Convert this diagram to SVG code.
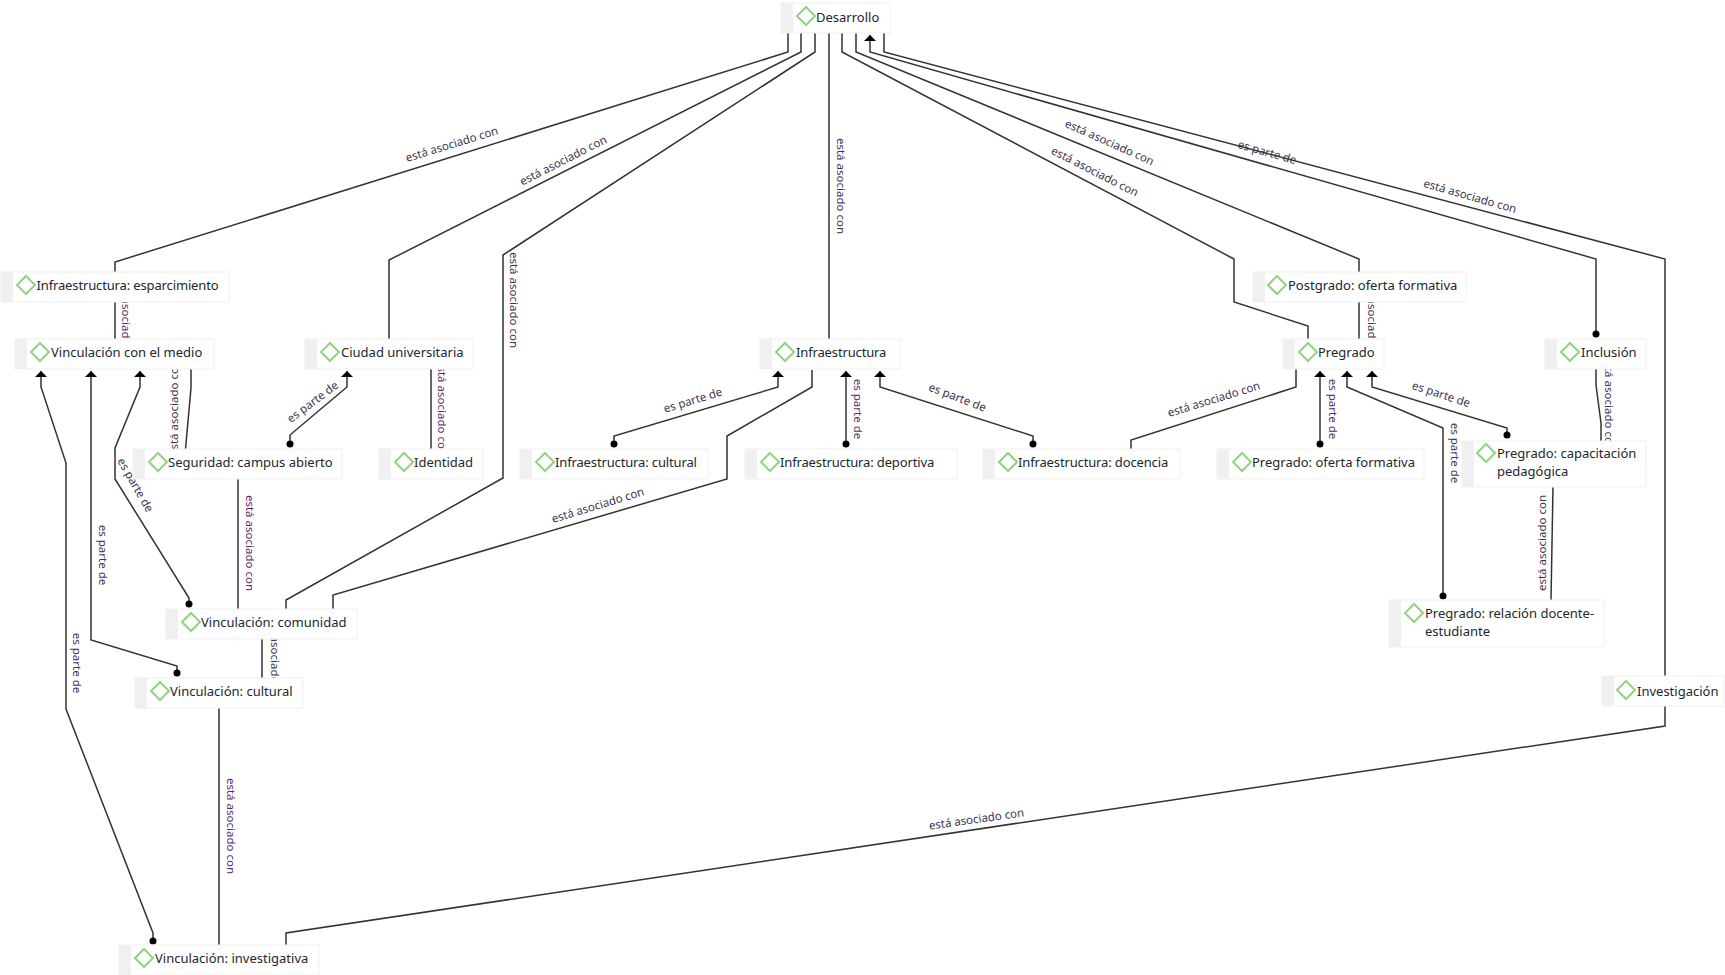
<svg xmlns="http://www.w3.org/2000/svg" width="1725" height="975" viewBox="0 0 1725 975">
<style>
.e{fill:none;stroke:#333;stroke-width:1.5}
.a{marker-end:url(#arrow)}
.d{marker-start:url(#dot)}
.l{font:11.5px "Noto Sans",sans-serif;fill:#3c3450;text-anchor:middle}
.p{fill:#5a2a6a}
.box{fill:#fff;stroke:#f0f0f0;stroke-width:1}
.strip{fill:#f0f0f0}
.dia{fill:#fff;stroke:#93d183;stroke-width:2}
.t{font:13px "Noto Sans",sans-serif;fill:#22262e}
.n{letter-spacing:-.14px}
</style>
<defs>
<marker id="arrow" markerUnits="userSpaceOnUse" markerWidth="7" markerHeight="12" refX="6" refY="6" orient="auto" viewBox="0 0 7 12"><path d="M0,0L6,6L0,12z" fill="#000"/></marker>
<marker id="dot" markerUnits="userSpaceOnUse" markerWidth="8" markerHeight="8" refX="4" refY="4" viewBox="0 0 8 8"><circle cx="4" cy="4" r="3.5" fill="#000"/></marker>
<path id="dm" d="M0,-9L9,0L0,9L-9,0z"/>
</defs>
<rect width="1725" height="975" fill="#fff"/>
<g id="connectors">
<path class="e" d="M788,33V52L115,262V339"/>
<path class="e" d="M801,33V52L389,260V339"/>
<path class="e" d="M815,33V52L503,255V478L286,600V609"/>
<path class="e" d="M829,33V340"/>
<path class="e" d="M842,33V52L1234,259V302L1308,326V339"/>
<path class="e" d="M856,33V52L1359,259V339"/>
<path class="e a d" d="M1596,334V259L870,52V35"/>
<path class="e" d="M884,33V52L1665,259V726L286,933V946"/>
<path class="e" d="M191,369V388L185.500,449"/>
<path class="e a d" d="M290,444V435L347,387V371"/>
<path class="e" d="M431,369V449"/>
<path class="e" d="M238,479V609"/>
<path class="e" d="M262,639V678"/>
<path class="e" d="M219,708V946"/>
<path class="e a d" d="M153,941V933L66,709V463L41,387V371"/>
<path class="e a d" d="M177,673V666L91,640V371"/>
<path class="e a d" d="M189,604V598L115,479V448L140,387V371"/>
<path class="e a d" d="M614,444V436L778,387V371"/>
<path class="e" d="M812,370V387L727,436V479L333,595V609"/>
<path class="e a d" d="M846,444V371"/>
<path class="e a d" d="M1033,444V436L880,387V371"/>
<path class="e" d="M1296,369V387L1131,440V449"/>
<path class="e a d" d="M1320,444V371"/>
<path class="e a d" d="M1443,596V428L1347,387V371"/>
<path class="e a d" d="M1507,435V428L1372,387V371"/>
<path class="e" d="M1596,369V385L1601,423V441"/>
<path class="e" d="M1553,487L1551,600"/>
<text class="l" transform="translate(453,148) rotate(-17)">está asociado con</text>
<text class="l" transform="translate(565,164) rotate(-27)">está asociado con</text>
<text class="l" transform="translate(510,300) rotate(90)">está asociado con</text>
<text class="l" transform="translate(837,186) rotate(90)">está asociado con</text>
<text class="l" transform="translate(1108,146) rotate(24)">está asociado con</text>
<text class="l" transform="translate(1093,175) rotate(27)">está asociado con</text>
<text class="l" transform="translate(1266,156) rotate(16)">es parte de</text>
<text class="l" transform="translate(1469,200) rotate(16)">está asociado con</text>
<text class="l" transform="translate(977,823) rotate(-8)">está asociado con</text>
<text class="l p" transform="translate(122,320) rotate(90)">está asociado con</text>
<text class="l" transform="translate(1368,320) rotate(90)">está asociado con</text>
<text class="l" transform="translate(178,408) rotate(-90)">está asociado con</text>
<text class="l" transform="translate(315,405) rotate(-37)">es parte de</text>
<text class="l p" transform="translate(438,408) rotate(90)">está asociado con</text>
<text class="l p" transform="translate(246,543) rotate(90)">está asociado con</text>
<text class="l" transform="translate(271,658) rotate(90)">está asociado con</text>
<text class="l p" transform="translate(227,826) rotate(90)">está asociado con</text>
<text class="l" transform="translate(73,663) rotate(90)">es parte de</text>
<text class="l" transform="translate(99,555) rotate(90)">es parte de</text>
<text class="l" transform="translate(132,487) rotate(60)">es parte de</text>
<text class="l" transform="translate(694,404) rotate(-17)">es parte de</text>
<text class="l" transform="translate(599,509) rotate(-17)">está asociado con</text>
<text class="l p" transform="translate(854,409) rotate(90)">es parte de</text>
<text class="l" transform="translate(956,401) rotate(21)">es parte de</text>
<text class="l" transform="translate(1215,403) rotate(-17)">está asociado con</text>
<text class="l p" transform="translate(1329,409) rotate(90)">es parte de</text>
<text class="l" transform="translate(1451,453) rotate(90)">es parte de</text>
<text class="l" transform="translate(1440,398) rotate(18)">es parte de</text>
<text class="l" transform="translate(1605,403) rotate(90)">está asociado con</text>
<text class="l" transform="translate(1546,543) rotate(-90)">está asociado con</text>
</g>
<g id="n1"><rect class="box" x="781" y="3" width="109" height="30"/><rect class="strip" x="781" y="3" width="12" height="30"/><use href="#dm" class="dia" x="806" y="16"/><text class="t" x="816" y="22">Desarrollo</text></g>
<g id="n2"><rect class="box" x="1" y="272" width="228" height="30"/><rect class="strip" x="1" y="272" width="12" height="30"/><use href="#dm" class="dia" x="26" y="285"/><text class="t n" x="36.500" y="289.500">Infraestructura: esparcimiento</text></g>
<g id="n3"><rect class="box" x="15" y="339" width="199" height="30"/><rect class="strip" x="15" y="339" width="12" height="30"/><use href="#dm" class="dia" x="40" y="352"/><text class="t" x="51" y="356.500">Vinculación con el medio</text></g>
<g id="n4"><rect class="box" x="305" y="339" width="168" height="30"/><rect class="strip" x="305" y="339" width="12" height="30"/><use href="#dm" class="dia" x="330" y="352"/><text class="t" x="341" y="356.500">Ciudad universitaria</text></g>
<g id="n5"><rect class="box" x="760" y="339" width="140" height="30"/><rect class="strip" x="760" y="339" width="12" height="30"/><use href="#dm" class="dia" x="785" y="352"/><text class="t n" x="796" y="356.500">Infraestructura</text></g>
<g id="n6"><rect class="box" x="1253" y="272" width="213" height="30"/><rect class="strip" x="1253" y="272" width="12" height="30"/><use href="#dm" class="dia" x="1277" y="285"/><text class="t" x="1288" y="289.500">Postgrado: oferta formativa</text></g>
<g id="n7"><rect class="box" x="1283" y="339" width="101" height="30"/><rect class="strip" x="1283" y="339" width="12" height="30"/><use href="#dm" class="dia" x="1308" y="352"/><text class="t" x="1318" y="356.500">Pregrado</text></g>
<g id="n8"><rect class="box" x="1545" y="339" width="101" height="30"/><rect class="strip" x="1545" y="339" width="12" height="30"/><use href="#dm" class="dia" x="1570" y="352"/><text class="t" x="1581" y="356.500">Inclusión</text></g>
<g id="n9"><rect class="box" x="133" y="449" width="209" height="30"/><rect class="strip" x="133" y="449" width="12" height="30"/><use href="#dm" class="dia" x="158" y="462"/><text class="t" x="168" y="467">Seguridad: campus abierto</text></g>
<g id="n10"><rect class="box" x="379" y="449" width="104" height="30"/><rect class="strip" x="379" y="449" width="12" height="30"/><use href="#dm" class="dia" x="404" y="462"/><text class="t" x="414" y="467">Identidad</text></g>
<g id="n11"><rect class="box" x="520" y="449" width="188" height="30"/><rect class="strip" x="520" y="449" width="12" height="30"/><use href="#dm" class="dia" x="545" y="462"/><text class="t n" x="555" y="467">Infraestructura: cultural</text></g>
<g id="n12"><rect class="box" x="745" y="449" width="212" height="30"/><rect class="strip" x="745" y="449" width="12" height="30"/><use href="#dm" class="dia" x="770" y="462"/><text class="t n" x="780" y="467">Infraestructura: deportiva</text></g>
<g id="n13"><rect class="box" x="983" y="449" width="197" height="30"/><rect class="strip" x="983" y="449" width="12" height="30"/><use href="#dm" class="dia" x="1008" y="462"/><text class="t n" x="1018" y="467">Infraestructura: docencia</text></g>
<g id="n14"><rect class="box" x="1217" y="449" width="207" height="30"/><rect class="strip" x="1217" y="449" width="12" height="30"/><use href="#dm" class="dia" x="1242" y="462"/><text class="t" x="1252" y="467">Pregrado: oferta formativa</text></g>
<g id="n15"><rect class="box" x="1462" y="441" width="184" height="46"/><rect class="strip" x="1462" y="441" width="12" height="46"/><use href="#dm" class="dia" x="1486" y="453"/><text class="t" x="1497" y="458">Pregrado: capacitación</text><text class="t" x="1497" y="476">pedagógica</text></g>
<g id="n16"><rect class="box" x="1389" y="600" width="215" height="47"/><rect class="strip" x="1389" y="600" width="12" height="47"/><use href="#dm" class="dia" x="1414" y="613"/><text class="t" x="1425" y="618">Pregrado: relación docente-</text><text class="t" x="1425" y="636">estudiante</text></g>
<g id="n17"><rect class="box" x="166" y="609" width="191" height="30"/><rect class="strip" x="166" y="609" width="12" height="30"/><use href="#dm" class="dia" x="191" y="622"/><text class="t" x="201" y="627">Vinculación: comunidad</text></g>
<g id="n18"><rect class="box" x="135" y="678" width="168" height="30"/><rect class="strip" x="135" y="678" width="12" height="30"/><use href="#dm" class="dia" x="160" y="691"/><text class="t" x="170" y="696">Vinculación: cultural</text></g>
<g id="n19"><rect class="box" x="1602" y="676" width="122" height="30"/><rect class="strip" x="1602" y="676" width="12" height="30"/><use href="#dm" class="dia" x="1626" y="690"/><text class="t" x="1637" y="696">Investigación</text></g>
<g id="n20"><rect class="box" x="119" y="945" width="200" height="30"/><rect class="strip" x="119" y="945" width="12" height="30"/><use href="#dm" class="dia" x="144" y="958"/><text class="t" x="155" y="962.500">Vinculación: investigativa</text></g>
</svg>
